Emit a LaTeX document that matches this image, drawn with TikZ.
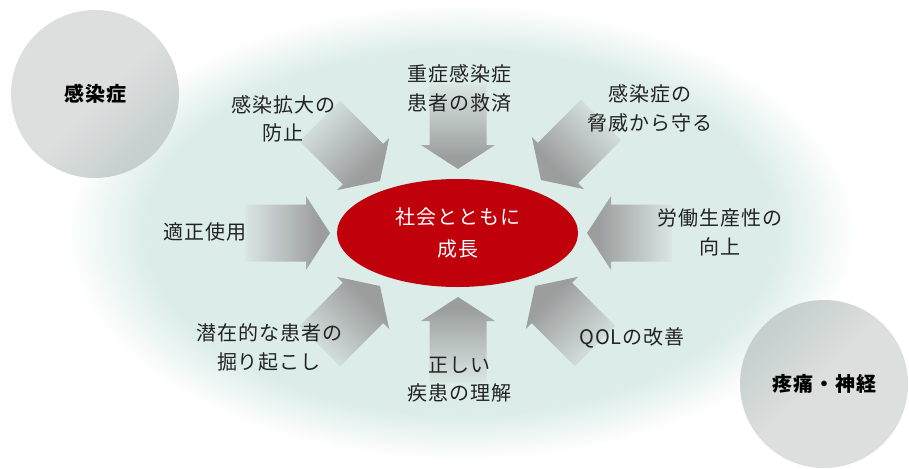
\documentclass[tikz,border=0pt]{standalone}
\usepackage{fontspec}
\setmainfont{Noto Sans CJK JP}
\newfontfamily\jp[LetterSpace=5]{Noto Sans CJK JP}
\usetikzlibrary{shapes.geometric}
\definecolor{bgteal}{RGB}{220,237,233}
\definecolor{arrdark}{RGB}{156,158,158}
\definecolor{arrlight}{RGB}{218,230,227}
\definecolor{circlight}{RGB}{221,222,222}
\definecolor{circdark}{RGB}{198,208,206}
\definecolor{redc}{RGB}{192,0,11}
\definecolor{txt}{RGB}{35,35,35}
\pgfdeclareradialshading{bgsh}{\pgfpointorigin}{color(0bp)=(bgteal); color(20bp)=(bgteal); color(25bp)=(white); color(50bp)=(white)}
\pgfdeclareverticalshading{arrsh}{100bp}{color(0bp)=(arrdark); color(32bp)=(arrdark); color(75bp)=(arrlight); color(100bp)=(arrlight)}
\pgfdeclareverticalshading{circsh}{100bp}{color(0bp)=(circdark); color(28bp)=(circdark); color(48bp)=(circlight); color(100bp)=(circlight)}
\newcommand\blkarrow[4]{%
  \begin{scope}[shift={(#1,#2)}, rotate=#3]
    \shade[shading=arrsh, shading angle=#4] (0,0) -- (-24,-37) -- (-24,-28.5) -- (-85,-28.5) -- (-85,28.5) -- (-24,28.5) -- (-24,37) -- cycle;
  \end{scope}}
\begin{document}
\begin{tikzpicture}[x=1pt, y=-1pt,
  lbl/.style={font=\jp\fontsize{20}{28.5}\selectfont, text=txt, align=center, inner sep=0pt},
  topic/.style={circle, minimum size=168pt, inner sep=0pt, shading=circsh, font=\jp\bfseries\fontsize{20}{24}\selectfont, text=black},
  core/.style={ellipse, minimum width=241pt, minimum height=108pt, inner sep=0pt, fill=redc, text=white, align=center, font=\jp\fontsize{20}{32}\selectfont}]
\useasboundingbox (0,0) rectangle (909,468);
\fill[white] (0,0) rectangle (909,468);
\shade[shading=bgsh] (461,232) ellipse [x radius=395pt, y radius=228pt];
% arrows
\blkarrow{458}{169}{-90}{0}
\blkarrow{458}{297}{90}{180}
\blkarrow{330}{233}{0}{90}
\blkarrow{587}{233}{180}{270}
\blkarrow{380}{181}{-45}{45}
\blkarrow{541}{180}{-135}{-45}
\blkarrow{380}{286}{45}{135}
\blkarrow{535}{286}{135}{225}
\node[core] (c) at (457.5,233) {社会とともに\\成長};
\node[lbl] (l1) at (283,119) {感染拡大の\\防止};
\node[lbl] (l2) at (459.5,88.5) {重症感染症\\患者の救済};
\node[lbl] (l3) at (650,108.5) {感染症の\\脅威から守る};
\node[lbl] (l4) at (205,232) {適正使用};
\node[lbl] (l5) at (720,232.5) {労働生産性の\\向上};
\node[lbl] (l6) at (269,347.5) {潜在的な患者の\\掘り起こし};
\node[lbl] (l7) at (459.5,379.5) {正しい\\疾患の理解};
\node[lbl] (l8) at (632,337.5) {QOLの改善};
\node[topic, shading angle=45] (t1) at (95,94) {感染症};
\node[topic, shading angle=225] (t2) at (824,384) {疼痛・神経};
\end{tikzpicture}
\end{document}
